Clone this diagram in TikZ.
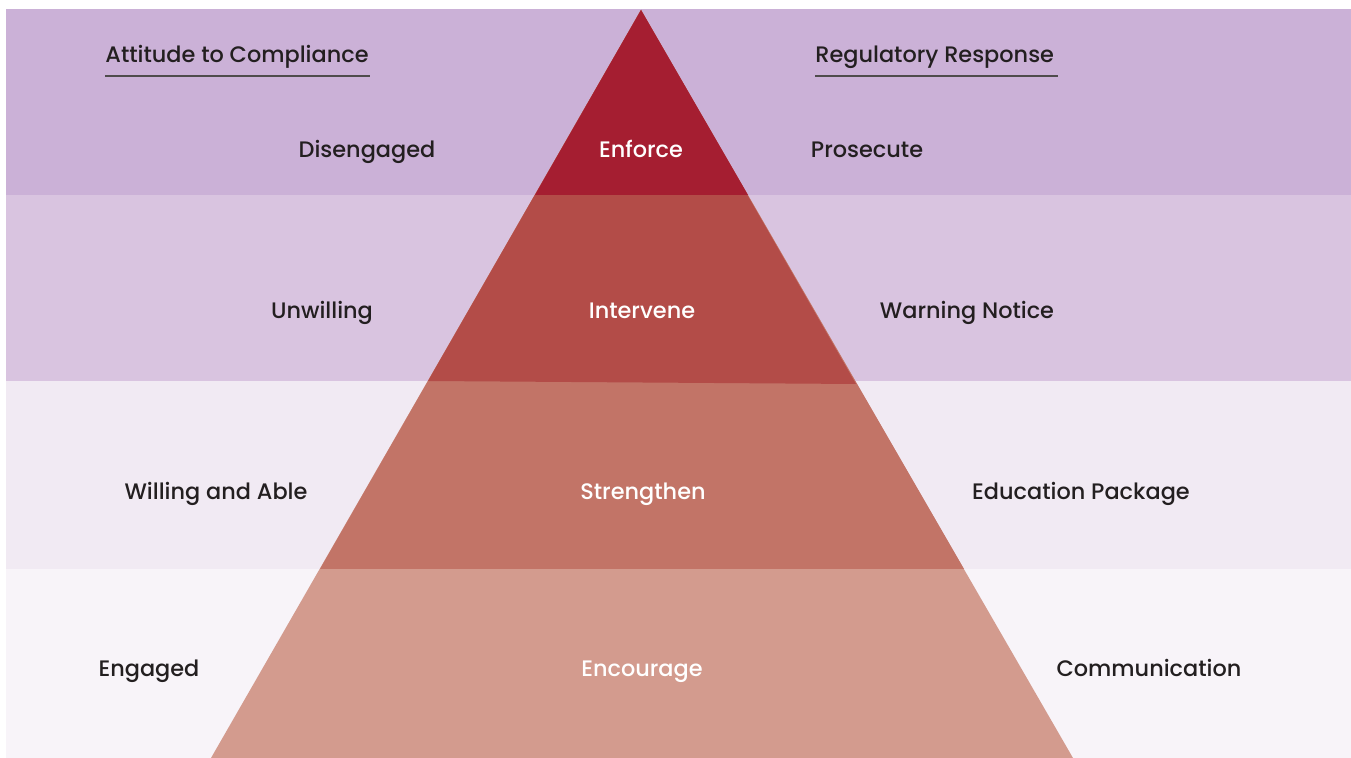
\documentclass[tikz,border=0pt]{standalone}
\usepackage{fontspec}
\setmainfont{Poppins}[UprightFont=* Medium]
\usetikzlibrary{positioning}

\definecolor{bandA}{HTML}{CBB1D7}
\definecolor{bandB}{HTML}{D9C4E0}
\definecolor{bandC}{HTML}{F1EAF3}
\definecolor{bandD}{HTML}{F8F4F9}
\definecolor{tierA}{HTML}{A51E31}
\definecolor{tierB}{HTML}{B34C48}
\definecolor{tierC}{HTML}{C27467}
\definecolor{tierD}{HTML}{D39B8E}
\definecolor{ink}{HTML}{231F20}

\tikzset{
    side/.style={text=ink, font=\fontsize{11.2}{13}\selectfont, inner sep=0pt,
        text height=0.72em, text depth=0em},
    tier/.style={side, text=white},
    heading/.style={side, anchor=west},
}

\begin{document}
\begin{tikzpicture}[x=0.5pt, y=-0.5pt]
    \useasboundingbox (0,0) rectangle (1351,758);
    % background bands
    \fill[bandA] (6,9) rectangle (1351,195);
    \fill[bandB] (6,195) rectangle (1351,381);
    \fill[bandC] (6,381) rectangle (1351,569);
    \fill[bandD] (6,569) rectangle (1351,758);

    % pyramid, stacked from the base up so the tiers meet without seams
    \coordinate (apex) at (641,10);
    \fill[tierD] (apex) -- (1073,758) -- (211,758) -- cycle;
    \fill[tierC] (apex) -- (964,569) -- (320,569) -- cycle;
    \fill[tierB] (apex) -- (856,384) -- (428,381) -- cycle;
    \fill[tierA] (apex) -- (748,195) -- (535,195) -- cycle;

    % column headings
    \node[heading] (attitude) at (105,55) {Attitude to Compliance};
    \draw[ink!80, line width=1pt] (attitude.south west) ++(0,13) -- ++(265,0);
    \node[heading] (response) at (815,55) {Regulatory Response};
    \draw[ink!80, line width=1pt] (response.south west) ++(0,13) -- ++(243,0);

    % attitudes
    \node[side] (disengaged) at (367,150) {Disengaged};
    \node[side] (unwilling) at (322,311) {Unwilling};
    \node[side] (willing) at (216,492) {Willing and Able};
    \node[side] (engaged) at (149,669) {Engaged};

    % tiers
    \node[tier] (enforce) at (641,150) {Enforce};
    \node[tier] (intervene) at (642,311) {Intervene};
    \node[tier] (strengthen) at (643,492) {Strengthen};
    \node[tier] (encourage) at (642,669) {Encourage};

    % responses
    \node[side] (prosecute) at (867,150) {Prosecute};
    \node[side] (warning) at (967,311) {Warning Notice};
    \node[side] (education) at (1081,492) {Education Package};
    \node[side] (communication) at (1149,669) {Communication};
\end{tikzpicture}
\end{document}
